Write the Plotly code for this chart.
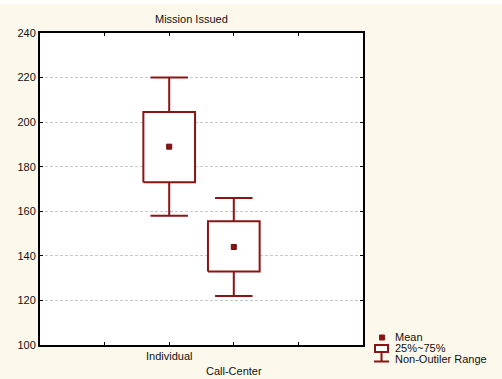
import plotly.graph_objects as go

# Data
categories = ["Individual", "Call-Center"]
positions = [2, 3]
means = [189, 144]
q1 = [173, 133]
q3 = [204.5, 155.5]
lower = [158, 122]
upper = [220, 166]
tick_vals = [1, 2, 3, 4]
tick_text = ["", "Individual", "<br>Call-Center", ""]
y_ticks = [100, 120, 140, 160, 180, 200, 220, 240]

RED = "#8B1414"
W, H = 502, 379
L, R, T, B = 40, 363, 33, 345  # plot area in pixels

box_hw = 0.40
cap_hw = 0.29

fig = go.Figure()

for x, lo, a, b, hi, m in zip(positions, lower, q1, q3, upper, means):
    # whiskers and caps
    fig.add_trace(go.Scatter(
        x=[x, x, None, x, x, None, x - cap_hw, x + cap_hw, None, x - cap_hw, x + cap_hw],
        y=[b, hi, None, a, lo, None, hi, hi, None, lo, lo],
        mode="lines", line=dict(color=RED, width=2), hoverinfo="skip", showlegend=False))
    # 25%-75% box
    fig.add_trace(go.Scatter(
        x=[x - box_hw, x + box_hw, x + box_hw, x - box_hw, x - box_hw],
        y=[a, a, b, b, a],
        mode="lines", line=dict(color=RED, width=2), fill="toself", fillcolor="white",
        hoverinfo="skip", showlegend=False))
    # mean
    fig.add_trace(go.Scatter(
        x=[x], y=[m], mode="markers",
        marker=dict(symbol="square", size=5, color=RED, line=dict(color="#6a0a0a", width=1)),
        showlegend=False))


def px(xp):
    return (xp - L) / (R - L)


def py(yp):
    return (B - yp) / (B - T)


shapes = [
    # thin white strip along the top of the page
    dict(type="rect", xref="paper", yref="paper", x0=px(0), x1=px(W), y0=py(4), y1=py(-1),
         fillcolor="white", line=dict(width=0), layer="below"),
    # legend: mean
    dict(type="rect", xref="paper", yref="paper", x0=px(379.5), x1=px(384.5), y0=py(340), y1=py(335),
         fillcolor=RED, line=dict(color=RED, width=1)),
    # legend: box
    dict(type="rect", xref="paper", yref="paper", x0=px(375), x1=px(388), y0=py(352), y1=py(345),
         fillcolor="white", line=dict(color=RED, width=2)),
    # legend: range stem and cap
    dict(type="line", xref="paper", yref="paper", x0=px(381.5), x1=px(381.5), y0=py(352), y1=py(361.5),
         line=dict(color=RED, width=2)),
    dict(type="line", xref="paper", yref="paper", x0=px(374), x1=px(389), y0=py(361.5), y1=py(361.5),
         line=dict(color=RED, width=2)),
]

annotations = [
    dict(text="Mission Issued", xref="paper", yref="paper", x=px(191), y=py(19),
         showarrow=False, font=dict(size=11, color="#111"), xanchor="center", yanchor="middle"),
]
for label, yy in [("Mean", 337), ("25%~75%", 348), ("Non-Outiler Range", 359)]:
    annotations.append(dict(text=label, xref="paper", yref="paper", x=px(393), y=py(yy),
                            showarrow=False, font=dict(size=11, color="#111"),
                            xanchor="left", yanchor="middle"))

fig.update_layout(
    width=W, height=H,
    margin=dict(l=L, r=W - R, t=T, b=H - B, pad=0),
    paper_bgcolor="#FDF8EC",
    plot_bgcolor="white",
    font=dict(family="Liberation Sans, Arial, sans-serif", size=11, color="#111"),
    showlegend=False,
    shapes=shapes,
    annotations=annotations,
    xaxis=dict(range=[0, 5], tickvals=tick_vals, ticktext=tick_text, automargin=False,
               showline=True, linecolor="black", linewidth=2, mirror="ticks",
               ticks="inside", ticklen=3, tickcolor="black", showgrid=False, zeroline=False,
               fixedrange=True),
    yaxis=dict(range=[100, 240], tickvals=y_ticks, automargin=False,
               showline=True, linecolor="black", linewidth=2, mirror="ticks",
               ticks="inside", ticklen=3, tickcolor="black",
               showgrid=True, gridcolor="#c8c8c8", gridwidth=1, griddash="3px,2px",
               zeroline=False, fixedrange=True),
)

fig.write_html("out.html")
